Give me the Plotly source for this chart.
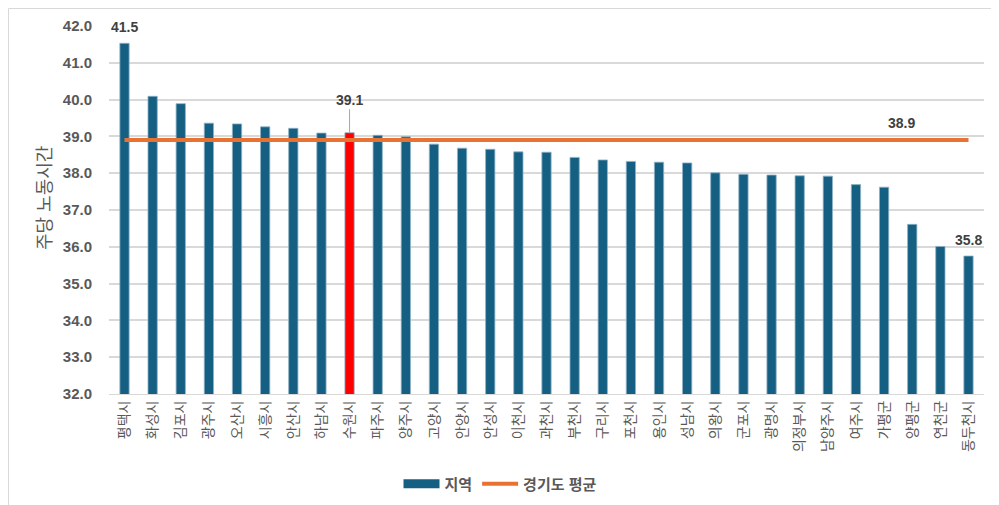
import plotly.graph_objects as go

regions = ["평택시", "화성시", "김포시", "광주시", "오산시", "시흥시", "안산시", "하남시",
           "수원시", "파주시", "양주시", "고양시", "안양시", "안성시", "이천시", "과천시",
           "부천시", "구리시", "포천시", "용인시", "성남시", "의왕시", "군포시", "광명시",
           "의정부시", "남양주시", "여주시", "가평군", "양평군", "연천군", "동두천시"]
hours = [41.53, 40.09, 39.89, 39.36, 39.34, 39.26, 39.22, 39.09,
         39.1, 39.03, 38.99, 38.79, 38.68, 38.65, 38.58, 38.57,
         38.43, 38.36, 38.32, 38.30, 38.28, 38.01, 37.97, 37.95,
         37.93, 37.92, 37.69, 37.62, 36.61, 36.01, 35.75]
gg_avg = 38.9
highlight = "수원시"
y_ticks = [32.0, 33.0, 34.0, 35.0, 36.0, 37.0, 38.0, 39.0, 40.0, 41.0, 42.0]

BLUE = "#156082"
ORANGE = "#E97132"
RED = "#FF0000"
GRAY = "#595959"
DARK = "#404040"
FONT = "Liberation Sans, Arial, Noto Sans CJK KR"

# page body adds an 8px offset; figure coordinates = screen - 8
W, H = 999, 505
L, T = 101, 18
R, B = W - 976, H - 386
PW, PH = W - L - R, H - T - B

colors = [RED if r == highlight else BLUE for r in regions]

fig = go.Figure()
fig.add_trace(go.Bar(
    x=regions, y=hours, name="지역", showlegend=False,
    marker=dict(color=colors, line=dict(color="#8fb3c7", width=0.8)),
    width=0.33,
))
# legend proxy for bars (wide rectangle swatch)
fig.add_trace(go.Scatter(
    x=[None], y=[None], name="<b>지역</b>", mode="lines",
    line=dict(color=BLUE, width=9),
))
fig.add_trace(go.Scatter(
    x=[regions[0], regions[-1]], y=[gg_avg, gg_avg], name="<b>경기도 평균</b>",
    mode="lines", line=dict(color=ORANGE, width=4),
))

lab_font = dict(family=FONT, size=14, color=DARK)
fig.add_annotation(x=regions[0], y=hours[0], text=f"<b>{hours[0]:.1f}</b>",
                   showarrow=False, yshift=16, font=lab_font)
i_hl = regions.index(highlight)
fig.add_annotation(x=regions[i_hl], y=hours[i_hl], text=f"<b>{hours[i_hl]:.1f}</b>",
                   showarrow=True, arrowhead=0, arrowwidth=1, arrowcolor="#a6a6a6",
                   ax=0, ay=-33, font=lab_font)
fig.add_annotation(x=regions[28], y=gg_avg, text=f"<b>{gg_avg:.1f}</b>",
                   showarrow=False, yshift=17, xshift=-11, font=lab_font)
fig.add_annotation(x=regions[-1], y=hours[-1], text=f"<b>{hours[-1]:.1f}</b>",
                   showarrow=False, yshift=16, font=lab_font)

# y-axis title
fig.add_annotation(xref="paper", yref="paper", x=(37 - L) / PW, y=(386 - 190) / PH,
                   xanchor="center", yanchor="middle",
                   text="주당 노동시간", textangle=-90, showarrow=False,
                   font=dict(family=FONT, size=18, color=GRAY))

# outer chart border (right and bottom edges fall outside the view)
fig.add_shape(type="rect", xref="paper", yref="paper",
              x0=(0.5 - L) / PW, x1=(W + 20 - L) / PW,
              y0=-(H + 20 - T - PH) / PH, y1=1 + (T - 0.5) / PH,
              line=dict(color="#d9d9d9", width=1), fillcolor="rgba(0,0,0,0)", layer="below")

fig.update_layout(
    width=W, height=H,
    margin=dict(l=L, r=R, t=T, b=B, autoexpand=False),
    paper_bgcolor="white", plot_bgcolor="white",
    font=dict(family=FONT, color=GRAY),
    showlegend=True,
    legend=dict(orientation="h", x=(492 - L) / PW, xanchor="center",
                y=-(476 - T - PH) / PH, yanchor="middle",
                font=dict(family=FONT, size=15, color=GRAY), itemwidth=36),
)
fig.update_xaxes(
    type="category", tickangle=-90, tickfont=dict(family=FONT, size=14, color=GRAY),
    showline=True, linecolor="#d9d9d9", linewidth=1, ticks="", showgrid=False,
    automargin=False,
)
fig.update_yaxes(
    range=[32, 42], tickvals=y_ticks, ticktext=[f"<b>{v:.1f}</b>" for v in y_ticks],
    tickfont=dict(family=FONT, size=15, color=GRAY),
    showgrid=True, gridcolor="#d9d9d9", gridwidth=1.5, zeroline=False,
    ticks="", showline=False, automargin=False, ticklabelstandoff=16,
)

fig.write_html("out.html")
